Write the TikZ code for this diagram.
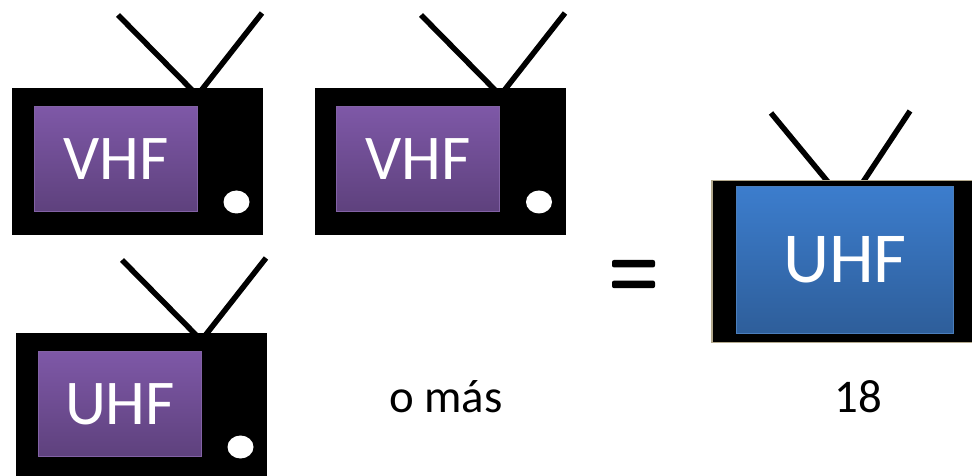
\documentclass[tikz,border=0pt]{standalone}
\usepackage{xcolor}
\usepackage{fontspec}
\setmainfont{Carlito}
\usetikzlibrary{shapes.geometric, positioning}
\definecolor{purpletop}{RGB}{126, 88, 167}
\definecolor{purplebottom}{RGB}{94, 65, 125}
\definecolor{purpleedge}{RGB}{130, 98, 165}
\definecolor{bluetop}{RGB}{60, 125, 205}
\definecolor{bluebottom}{RGB}{46, 94, 154}
\definecolor{blueedge}{RGB}{74, 126, 187}
\definecolor{tanedge}{RGB}{178, 168, 140}

\begin{document}
\begin{tikzpicture}[
    x=1bp, y=-1bp,
    tvbody/.style={rectangle, fill=black, minimum width=251bp, minimum height=147bp, inner sep=0pt},
    screen/.style={rectangle, draw=purpleedge, line width=1bp, top color=purpletop, bottom color=purplebottom,
                  text=white, minimum width=163bp, minimum height=105bp, inner sep=0pt, font=\fontsize{64}{64}\selectfont},
    knob/.style={ellipse, fill=white, minimum width=26bp, minimum height=23bp, inner sep=0pt},
    antenna/.style={line width=5.5bp},
    eqbar/.style={rectangle, rounded corners=2bp, fill=black, minimum width=43bp, minimum height=7.5bp, inner sep=0pt},
    caption/.style={font=\fontsize{47}{47}\selectfont, inner sep=0pt, anchor=base}
]
    \useasboundingbox (0,0) rectangle (972,476);

    % first VHF set
    \node[tvbody] (bodya) at (137.5,161.5) {};
    \node[screen] (screena) at (116,159) {VHF};
    \node[knob] (knoba) at (236.5,202) {};
    \coordinate (tipal) at (118,15);
    \coordinate (tipar) at (262,13);
    \coordinate (baseal) at (194,92);
    \coordinate (basear) at (200,92);
    \draw[antenna] (tipal) -- (baseal);
    \draw[antenna] (tipar) -- (basear);

    % second VHF set
    \node[tvbody] (bodyb) at (440.5,161.5) {};
    \node[screen] (screenb) at (418,159) {VHF};
    \node[knob] (knobb) at (539,202) {};
    \coordinate (tipbl) at (421,15);
    \coordinate (tipbr) at (565,13);
    \coordinate (basebl) at (497,92);
    \coordinate (basebr) at (503,92);
    \draw[antenna] (tipbl) -- (basebl);
    \draw[antenna] (tipbr) -- (basebr);

    % UHF set
    \node[tvbody] (bodyc) at (141.5,406.5) {};
    \node[screen] (screenc) at (120,404) {UHF};
    \node[knob] (knobc) at (240.5,447) {};
    \coordinate (tipcl) at (122,260);
    \coordinate (tipcr) at (266,258);
    \coordinate (basecl) at (198,337);
    \coordinate (basecr) at (204,337);
    \draw[antenna] (tipcl) -- (basecl);
    \draw[antenna] (tipcr) -- (basecr);

    % big UHF set
    \coordinate (tipdl) at (771,113);
    \coordinate (tipdr) at (910,111);
    \coordinate (basedl) at (828,182);
    \coordinate (basedr) at (863,182);
    \draw[antenna] (tipdl) -- (basedl);
    \draw[antenna] (tipdr) -- (basedr);
    \node[rectangle, fill=black, draw=tanedge, line width=1.5bp, minimum width=266bp, minimum height=162bp, inner sep=0pt] (bodyd) at (845,261.5) {};
    \node[rectangle, draw=blueedge, line width=1bp, top color=bluetop, bottom color=bluebottom, text=white,
          minimum width=217bp, minimum height=147bp, inner sep=0pt, font=\fontsize{72}{72}\selectfont] (screend) at (845,260) {UHF};

    % equals sign
    \node[eqbar] (eqtop) at (633.5,263.7) {};
    \node[eqbar, below=12.8bp of eqtop] (eqbottom) {};

    \node[caption] (more) at (446,412.7) {o más};
    \node[caption] (number) at (858,412.7) {18};
\end{tikzpicture}
\end{document}
